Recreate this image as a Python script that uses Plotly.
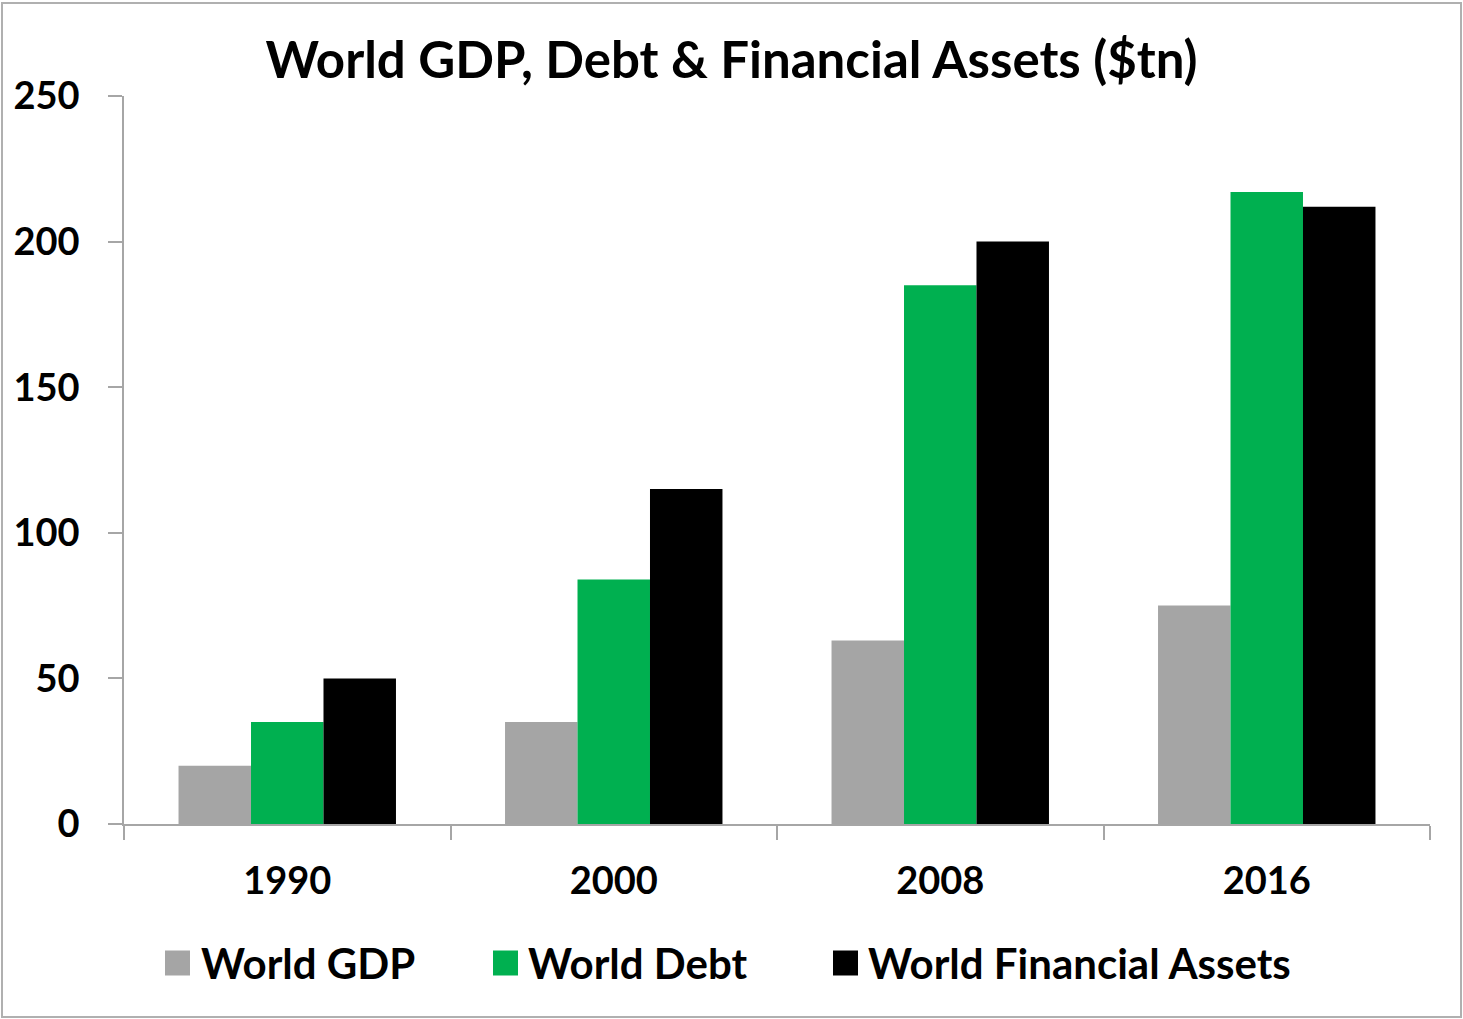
import plotly.graph_objects as go

# Chart data
years = ["1990", "2000", "2008", "2016"]
series_names = ["World GDP", "World Debt", "World Financial Assets"]
world_gdp = [20, 35, 63, 75]
world_debt = [35, 84, 185, 217]
world_assets = [50, 115, 200, 212]
series_colors = ["#A5A5A5", "#00B050", "#000000"]
y_ticks = [0, 50, 100, 150, 200, 250]

FONT = "Lato"
W, H = 1463, 1019
L, R, T, B = 124, 33, 96, 195
PW, PH = W - L - R, H - T - B

def px_x(px):
    return (px - L) / PW

def px_y(py):
    return (H - B - py) / PH

fig = go.Figure()
for name, vals, col in zip(series_names, [world_gdp, world_debt, world_assets], series_colors):
    fig.add_trace(go.Bar(x=years, y=vals, name=name, marker=dict(color=col, line=dict(width=0)),
                         showlegend=False))

axis_col = "#A6A6A6"
tick_font = dict(family=FONT, size=38, color="black", weight="bold")
fig.update_layout(
    width=W, height=H,
    margin=dict(l=L, r=R, t=T, b=B),
    paper_bgcolor="white", plot_bgcolor="white",
    barmode="group", bargap=0.334, bargroupgap=0,
    title=dict(text="World GDP, Debt & Financial Assets ($tn)", x=0.5, xref="container",
               xanchor="center", y=1 - 60 / H, yanchor="middle",
               font=dict(family=FONT, size=51, color="black", weight="bold")),
    font=dict(family=FONT, color="black"),
    xaxis=dict(showline=True, linecolor=axis_col, linewidth=1.5, ticks="outside", ticklen=14,
               tickcolor=axis_col, tickwidth=1.5, tickson="boundaries", showgrid=False,
               tickfont=tick_font, ticklabelstandoff=23, automargin=False),
    yaxis=dict(range=[0, 250], tickvals=y_ticks, showline=True, linecolor=axis_col, linewidth=1.5,
               ticks="outside", ticklen=14, tickcolor=axis_col, tickwidth=1.5, showgrid=False,
               zeroline=False, tickfont=tick_font, ticklabelstandoff=21, automargin=False),
)

# Legend: square swatch plus bold label per series
legend_swatch_x = [165, 493, 833]
legend_text_x = [199, 526, 866]
leg_y = 963
sq = 12.5
for name, col, sx, tx in zip(series_names, series_colors, legend_swatch_x, legend_text_x):
    fig.add_shape(type="rect", xref="paper", yref="paper",
                  x0=px_x(sx), x1=px_x(sx + 2 * sq), y0=px_y(leg_y + sq), y1=px_y(leg_y - sq),
                  fillcolor=col, line=dict(width=0))
    fig.add_annotation(xref="paper", yref="paper", x=px_x(tx), y=px_y(leg_y),
                       xanchor="left", yanchor="middle", showarrow=False,
                       text=name, font=dict(family=FONT, size=42, color="black", weight="bold"))

# Outer chart border
fig.add_shape(type="rect", xref="paper", yref="paper",
              x0=px_x(2), x1=px_x(1461), y0=px_y(1017), y1=px_y(3),
              line=dict(color="#B0B0B0", width=2), fillcolor="rgba(0,0,0,0)", layer="below")

fig.write_html("out.html")
